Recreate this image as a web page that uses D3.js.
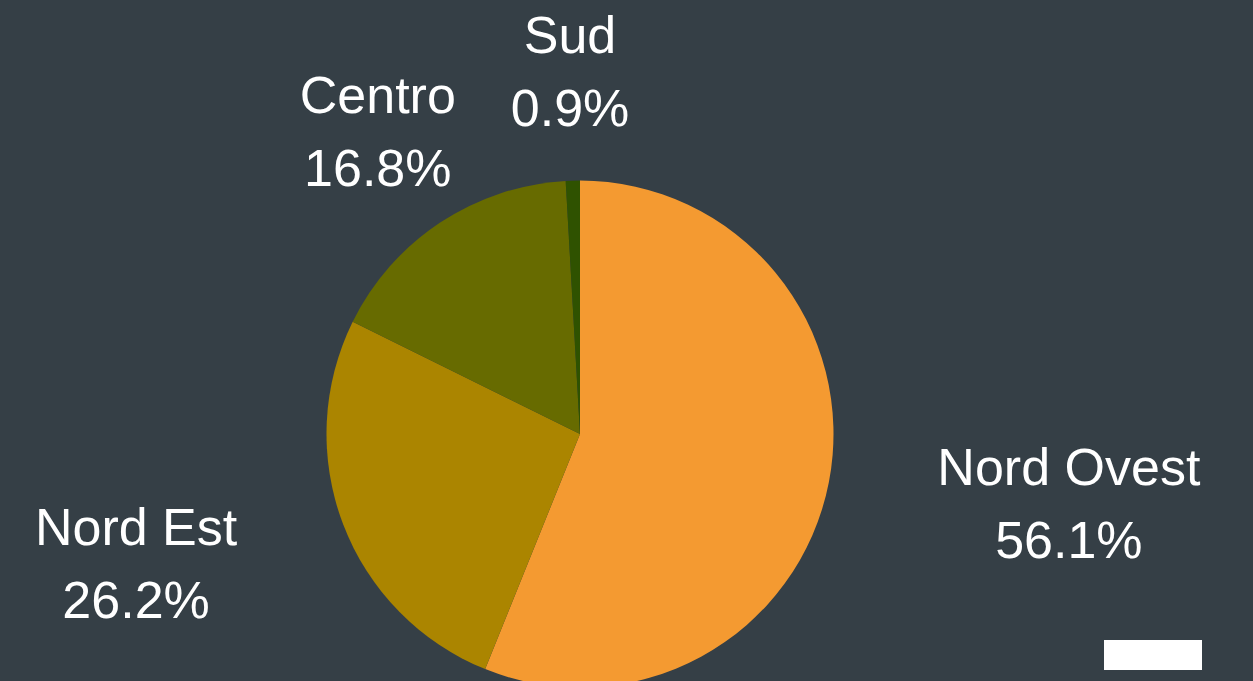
<!DOCTYPE html>
<html>
<head>
<meta charset="utf-8">
<script src="https://cdn.jsdelivr.net/npm/d3@7"></script>
<style>
  html, body { margin: 0; padding: 0; background: #353f46; }
  svg { display: block; }
</style>
</head>
<body>
<script>
var width = 1253,
    height = 681;

// data
var regions = ["Nord Ovest", "Nord Est", "Centro", "Sud"];
var shares = [56.1, 26.2, 16.8, 0.9];
var colors = ["#f49a31", "#ab8500", "#676b00", "#2f5200"];

var svg = d3.select("body")
            .append("svg")
            .attr("width", width)
            .attr("height", height);

svg.append("rect")
   .attr("width", width)
   .attr("height", height)
   .attr("fill", "#353f46");

var cx = 580, cy = 434, radius = 253.5;

var pie = d3.pie().sort(null).value(function(d) { return d.value; });
var arc = d3.arc().innerRadius(0).outerRadius(radius);

var data = regions.map(function(r, i) { return { name: r, value: shares[i], color: colors[i] }; });
var arcs = pie(data);

var pie_g = svg.append("g").attr("transform", "translate(" + cx + "," + cy + ")");

pie_g.selectAll("path")
     .data(arcs)
     .enter().append("path")
     .attr("d", arc)
     .attr("fill", function(d) { return d.data.color; });

/* labels: placed outside the pie, pushed away by their own box size */
var fontSize = 52,
    lineGap = 73,
    capH = 37,
    labelR = 308;

var fmt = function(v) { return v.toFixed(1) + "%"; };

var label_g = svg.append("g");

arcs.forEach(function(d, i) {
  var a = (d.startAngle + d.endAngle) / 2,
      sx = Math.sin(a), sy = -Math.cos(a);

  var t = label_g.append("text")
      .attr("text-anchor", "middle")
      .attr("fill", "#ffffff")
      .attr("font-family", "'Liberation Sans', Arial, sans-serif")
      .attr("font-size", fontSize);
  var l1 = t.append("tspan").attr("x", 0).attr("y", 0).text(d.data.name);
  var l2 = t.append("tspan").attr("x", 0).attr("y", lineGap).text(fmt(d.data.value));

  var hw = Math.max(l1.node().getComputedTextLength(), l2.node().getComputedTextLength()) / 2,
      hh = (capH + lineGap) / 2;

  var bx = Math.abs(sx) > 0.8
        ? cx + sx * labelR + Math.sign(sx) * (hw + 55)
        : cx + sx * labelR + sx * hw * 0.75,
      by = cy + sy * (labelR + hh);

  t.attr("transform", "translate(" + bx + "," + (by - hh + capH) + ")");
});

// stray white box at the bottom right
svg.append("rect")
   .attr("x", 1104)
   .attr("y", 640)
   .attr("width", 98)
   .attr("height", 30)
   .attr("fill", "#ffffff");
</script>
</body>
</html>
